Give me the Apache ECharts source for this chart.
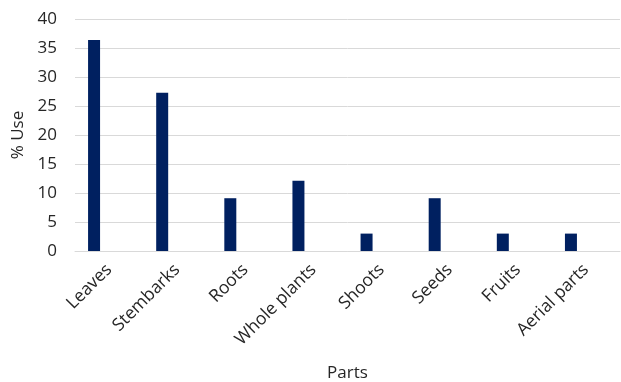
<!DOCTYPE html>
<html><head><meta charset="utf-8">
<script src="https://cdn.jsdelivr.net/npm/echarts@6/dist/echarts.min.js"></script>
<style>html,body{margin:0;padding:0;background:#fff;overflow:hidden}#c{width:621px;height:382px}</style>
</head><body><div id="c"></div>
<script>
const categories = ['Leaves','Stembarks','Roots','Whole plants','Shoots','Seeds','Fruits','Aerial parts'];
const useValues = [36.4, 27.3, 9.1, 12.1, 3.0, 9.1, 3.0, 3.0];
const emptyValues = ['-','-','-','-','-','-','-','-'];
const yTicks = [0, 5, 10, 15, 20, 25, 30, 35, 40];
const FONT = '"Open Sans", sans-serif';
const chart = echarts.init(document.getElementById('c'), null, {renderer:'canvas', width: 621, height: 382});
chart.setOption({
  animation: false,
  grid: {left: 75, right: 1, top: 19, bottom: 131, containLabel: false, outerBoundsMode: 'none'},
  xAxis: {
    type: 'category', data: categories,
    name: 'Parts', nameLocation: 'middle', nameGap: 114,
    nameTextStyle: {fontFamily: FONT, fontSize: 17, color: '#262626'},
    axisLine: {lineStyle: {color: '#d9d9d9', width: 1}},
    axisTick: {show: false},
    axisLabel: {rotate: 45, fontFamily: FONT, fontSize: 17.5, color: '#262626', margin: 16, interval: 0}
  },
  yAxis: {
    type: 'value', min: yTicks[0], max: yTicks[yTicks.length-1], interval: 5,
    name: '% Use', nameLocation: 'middle', nameGap: 40,
    nameTextStyle: {fontFamily: FONT, fontSize: 17, color: '#262626'},
    axisLine: {show: false}, axisTick: {show: false},
    axisLabel: {fontFamily: FONT, fontSize: 17, color: '#262626', margin: 18},
    splitLine: {lineStyle: {color: '#d9d9d9', width: 1}}
  },
  series: [
    {type: 'bar', name: '% Use', data: useValues, barWidth: 12, barGap: '150%',
     itemStyle: {color: '#002060'}},
    {type: 'bar', name: ' ', data: emptyValues, barWidth: 12, itemStyle: {color: 'transparent'}}
  ]
});
</script></body></html>
